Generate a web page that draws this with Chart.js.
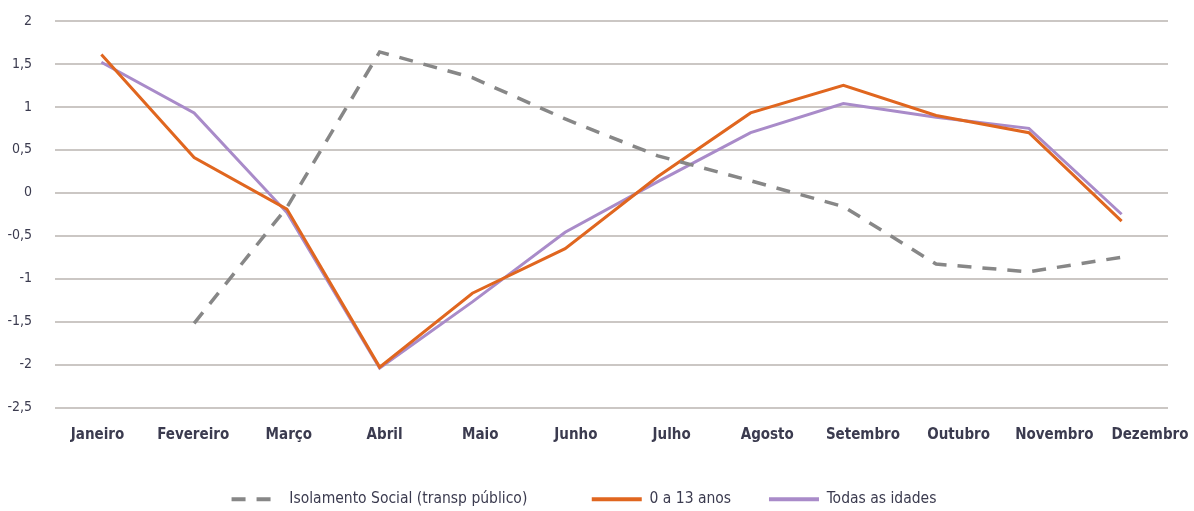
<!DOCTYPE html>
<html>
<head>
<meta charset="utf-8">
<script src="https://cdn.jsdelivr.net/npm/chart.js@4/dist/chart.umd.min.js"></script>
<style>
  html, body { margin: 0; padding: 0; background: #fff; }
  #wrap { width: 1194px; height: 511px; position: relative; }
</style>
</head>
<body>
<div id="wrap"><canvas id="c"></canvas></div>
<script>
const months = ["Janeiro", "Fevereiro", "Março", "Abril", "Maio", "Junho", "Julho",
  "Agosto", "Setembro", "Outubro", "Novembro", "Dezembro"];

const isolamento = [null, -1.52, -0.17, 1.64, 1.34, 0.86, 0.43, 0.14, -0.16, -0.83, -0.92, -0.75];
const zeroA13 = [1.61, 0.41, -0.19, -2.03, -1.17, -0.65, 0.19, 0.93, 1.25, 0.9, 0.7, -0.33];
const todas = [1.52, 0.93, -0.23, -2.04, -1.27, -0.46, 0.13, 0.7, 1.04, 0.88, 0.75, -0.25];

const yTicks = [2, 1.5, 1, 0.5, 0, -0.5, -1, -1.5, -2, -2.5];

const FONT = "'Liberation Sans Narrow', 'DejaVu Sans Condensed', sans-serif";
const TEXT = "#3b3b4f";

// extra space after a legend entry, to widen the gap before the next one
const legendGap = ["        ", "  ", ""];

// labels may overflow the plot edges, as in the original
function noEdgePadding(axis) {
  axis.paddingTop = 0;
  axis.paddingBottom = 0;
  axis.paddingLeft = 0;
  axis.paddingRight = 0;
}

new Chart(document.getElementById("c"), {
  type: "line",
  data: {
    labels: months,
    datasets: [
      {
        label: "Isolamento Social (transp público)",
        data: isolamento,
        borderColor: "#878787",
        backgroundColor: "#878787",
        borderWidth: 3.5,
        borderDash: [14, 11],
        pointRadius: 0,
        tension: 0,
      },
      {
        label: "0 a 13 anos",
        data: zeroA13,
        borderColor: "#e0661f",
        backgroundColor: "#e0661f",
        borderWidth: 3,
        pointRadius: 0,
        tension: 0,
      },
      {
        label: "Todas as idades",
        data: todas,
        borderColor: "#a98bc9",
        backgroundColor: "#a98bc9",
        borderWidth: 3,
        pointRadius: 0,
        tension: 0,
      }
    ]
  },
  options: {
    responsive: true,
    maintainAspectRatio: false,
    animation: false,
    layout: {
      autoPadding: false,
      padding: { top: 21, right: 26, bottom: -6, left: 0 }
    },
    plugins: {
      tooltip: { enabled: false },
      legend: {
        position: "bottom",
        labels: {
          usePointStyle: true,
          pointStyle: "line",
          pointStyleWidth: 50,
          boxHeight: 4,
          padding: 29,
          color: TEXT,
          font: { family: FONT, size: 15.5 },
          generateLabels(chart) {
            return chart.data.datasets.map((ds, i) => ({
              text: ds.label + legendGap[i],
              fillStyle: ds.borderColor,
              strokeStyle: ds.borderColor,
              lineWidth: 4,
              lineDash: ds.borderDash || [],
              pointStyle: "line",
              fontColor: TEXT,
              datasetIndex: i,
            }));
          }
        }
      }
    },
    scales: {
      // category axis that places the data, hidden
      x: {
        offset: true,
        display: false,
        afterFit: noEdgePadding,
      },
      // month names sit slightly wider apart than the data points in the original
      xl: {
        type: "linear",
        position: "bottom",
        min: -0.444,
        max: 11.188,
        afterBuildTicks(axis) {
          axis.ticks = months.map((m, i) => ({ value: i }));
        },
        afterFit(axis) {
          noEdgePadding(axis);
          axis.height = 55;
        },
        grid: { display: false, drawTicks: false },
        border: { display: false },
        ticks: {
          color: TEXT,
          padding: 19,
          maxRotation: 0,
          autoSkip: false,
          font: { family: FONT, size: 15, weight: "bold" },
          callback: v => months[v]
        }
      },
      y: {
        min: -2.5,
        max: 2,
        afterBuildTicks(axis) {
          axis.ticks = yTicks.map(v => ({ value: v }));
        },
        afterFit(axis) {
          noEdgePadding(axis);
          axis.width = 55;
        },
        grid: { color: "#cbc7c4", lineWidth: 2, drawTicks: false },
        border: { display: false },
        ticks: {
          color: TEXT,
          padding: 23,
          font: { family: FONT, size: 14 },
          callback: v => String(v).replace(".", ",")
        }
      }
    }
  }
});
</script>
</body>
</html>
